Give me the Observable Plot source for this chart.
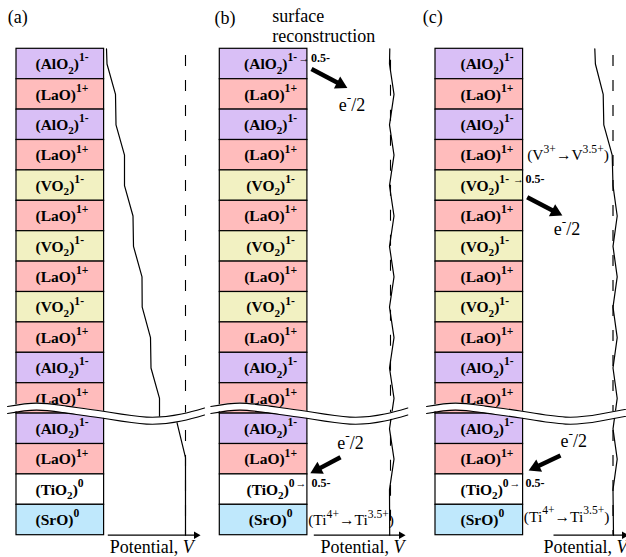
<!DOCTYPE html>
<html><head><meta charset="utf-8">
<script src="https://cdn.jsdelivr.net/npm/d3@7"></script>
<script src="https://cdn.jsdelivr.net/npm/@observablehq/plot@0.6"></script>
<style>body{margin:0;background:#fff} svg{display:block}</style>
</head><body><div id="chart"></div>
<script>
// ---------------- data ----------------
const panels = ["(a)", "(b)", "(c)"];
const layers = ["AlO2","LaO","AlO2","LaO","VO2","LaO","VO2","LaO","VO2","LaO","AlO2","LaO","AlO2","LaO","TiO2","SrO"];
const charges = ["1-","1+","1-","1+","1-","1+","1-","1+","1-","1+","1-","1+","1-","1+","0","0"];
const formulas = {AlO2: "(AlO_{2})", LaO: "(LaO)", VO2: "(VO_{2})", TiO2: "(TiO_{2})", SrO: "(SrO)"};
const layerColors = {AlO2: "#d9bff6", LaO: "#ffbcbc", VO2: "#f2f1c2", TiO2: "#ffffff", SrO: "#bfe8fc"};
// charge transfers: [panel, layer index, new charge]
const transfers = [[1, 0, "0.5-"], [1, 14, "0.5-"], [2, 4, "0.5-"], [2, 14, "0.5-"]];
const electronText = "e^{-}/2";
const valenceTexts = ["(Ti^{4+}→Ti^{3.5+})", "(V^{3+}→V^{3.5+})", "(Ti^{4+}→Ti^{3.5+})"];
const noteTexts = ["surface", "reconstruction"];
const axisTitle = "Potential, ~{V}";
// potential profiles: row position (layer units) and potential relative to the dashed reference
const potRowsA = [0, 0.5, 1.5, 2.5, 3.5, 4.5, 5.5, 6.5, 7.5, 8.5, 9.5, 10.5, 11.5, 12.1];
const potA = [-79, -78.5, -70, -69.5, -61, -61, -52.5, -52, -43.5, -43.3, -35, -34.5, -26, -26];
const potRowsA2 = [12.3, 13.45, 16];
const potA2 = [-8.5, 0, 0];
const potRowsB = [0, 0.5, 1.5, 2.5, 3.5, 4.5, 5.5, 6.5, 7.5, 8.5, 9.5, 10.5, 11.5, 12.5, 13.5, 14.5, 16];
const potB = [-0.7, -1, 3.5, -1, 3.5, -1, 3.5, -1, 3.5, -1, 3.5, -1, 3.5, -1, 3.5, -1, -0.8];
const potRowsC = [0, 0.5, 1.5, 2.5, 3.5, 4.5, 5.5, 6.5, 7.5, 8.5, 9.5, 10.5, 11.5, 12.5, 13.5, 14.5, 16];
const potC = [-18.2, -17.6, -9.8, -9.2, -0.8, 0, 4.2, 0, 4.2, 0, 4.2, 0, 4.2, 0, 4.2, 0, 0.5];
// break wave (x offset from box left, centre row)
const breakDx = [-9, 20, 50, 85, 130, 165, 188];
const breakRow = [11.88, 11.77, 11.87, 12.03, 12.23, 12.13, 11.93];

// ---------------- layout ----------------
const L = {
  W: 626, H: 557, top: 48.3, bottom: 22.3,
  boxLeft: [16, 219.3, 435], boxW: 87.6,
  labelStart: [19, null, 25], labelMid: 7,
  ref: [185, 390, 612.5], refStart: [0.22, 0.38, 0.22],
  axis: [[107.3, 200], [313.3, 405], [553, 628]],
  panelLabel: [[7.3, -0.85], [214, -0.80], [422.3, -0.85]],
  potLabelX: [109.3, 320, 543], potLabelRow: 16.57,
  transfer: [[298, 310.5], [295, 311], [512.5, 525], [509, 525]],
  eArrows: [[311, 0.664, 346.7, 1.283], [340, 13.434, 310, 13.961], [526.7, 4.882, 561.7, 5.484], [560, 13.378, 528.3, 13.872]],
  eLabels: [[338.3, 2.03], [336.7, 13.16], [553.3, 6.14], [560, 13.1]],
  valence: [[307.7, 15.68], [526.7, 3.674], [523.3, 15.57]],
  notes: [[271.7, -0.898], [271.7, -0.23]],
  breakHalf: 0.115, breakEnd: [188, 188, 197]
};
const ROW = (L.H - L.top - L.bottom) / 16;
const serif = "Liberation Serif";

// ---------------- derived tables ----------------
const cells = panels.flatMap((_, p) => layers.map((name, i) => ({p, i, name, charge: charges[i]})));
const labelOf = d => `${formulas[d.name]}^{${d.charge}}`;
const potSeries = [[0, potRowsA, potA], [0, potRowsA2, potA2], [1, potRowsB, potB], [2, potRowsC, potC]];
const potPts = potSeries.flatMap(([p, rows, v], k) => rows.map((r, j) => ({k, p, r, v: v[j]})));
const transferPts = transfers.map(([p, i, c], k) => ({p, i, c, ax: L.transfer[k][0], vx: L.transfer[k][1]}));
const eArr = L.eArrows.map(([x1, r1, x2, r2]) => {
  const dx = x2 - x1, dy = (r2 - r1) * ROW, len = Math.hypot(dx, dy);
  const back = 7.6;
  return {x1, r1, hx: x2 - dx / len * back, hr: r2 - dy / len * back / ROW, rot: Math.atan2(dy, dx) * 180 / Math.PI + 90};
});
const eLab = L.eLabels.map(([x, r]) => ({x, r, t: electronText}));
const valPts = valenceTexts.map((t, k) => ({t, x: L.valence[k][0], r: L.valence[k][1]}));
const notePts = noteTexts.map((t, k) => ({t, x: L.notes[k][0], r: L.notes[k][1]}));
const panelPts = panels.map((t, p) => ({t, x: L.panelLabel[p][0], r: L.panelLabel[p][1]}));
const potLab = panels.map((_, p) => ({t: axisTitle, x: L.potLabelX[p], r: L.potLabelRow}));
const axes = panels.map((_, p) => ({p, x1: L.axis[p][0], x2: L.axis[p][1]}));
const breakPts = panels.flatMap((_, p) => breakDx.map((dx, j) => ({p, x: L.boxLeft[p] + (j === breakDx.length - 1 ? L.breakEnd[p] : dx), r: breakRow[j]})));

const T = {fill: "black", lineAnchor: "bottom", fontFamily: serif};
const chart = Plot.plot({
  width: L.W, height: L.H,
  marginTop: L.top, marginBottom: L.bottom, marginLeft: 0, marginRight: 0,
  x: {domain: [0, L.W], axis: null},
  y: {domain: [16, 0], axis: null},
  color: {type: "identity"},
  marks: [
    Plot.rect(cells, {x1: d => L.boxLeft[d.p], x2: d => L.boxLeft[d.p] + L.boxW, y1: d => d.i, y2: d => d.i + 1,
      fill: d => layerColors[d.name], stroke: "black", strokeWidth: 1.2}),
    Plot.text(cells.filter(d => d.p !== 1), {...T, x: d => L.boxLeft[d.p] + L.labelStart[d.p], y: d => d.i + 0.67,
      text: labelOf, textAnchor: "start", fontWeight: "bold", fontSize: 15.5}),
    Plot.text(cells.filter(d => d.p === 1), {...T, x: d => L.boxLeft[d.p] + L.boxW / 2 + L.labelMid, y: d => d.i + 0.67,
      text: labelOf, fontWeight: "bold", fontSize: 15.5}),
    Plot.text(transferPts, {...T, x: "ax", y: d => d.i + 0.43, text: () => "→", textAnchor: "start", fontSize: 11}),
    Plot.text(transferPts, {...T, x: "vx", y: d => d.i + 0.43, text: "c", textAnchor: "start", fontSize: 12, fontWeight: "bold"}),
    Plot.ruleX([0, 1], {x: p => L.ref[p], y1: p => L.refStart[p], y2: () => 16, stroke: "black", strokeWidth: 1.1, strokeDasharray: "11,14"}),
    Plot.ruleX([2], {x: p => L.ref[p], y1: p => L.refStart[p], y2: () => 16, stroke: "#555", strokeWidth: 1.8, strokeDasharray: "11,14"}),
    Plot.line(potPts, {x: d => L.ref[d.p] + d.v, y: "r", z: "k", stroke: "black", strokeWidth: 1.2}),
    Plot.link(axes, {x1: "x1", x2: d => d.x2 - 5, y1: () => 16, y2: () => 16, stroke: "black", strokeWidth: 1.3}),
    Plot.dot(axes, {x: d => d.x2 - 4.3, y: () => 16, symbol: "triangle", r: 2.8, rotate: 90, fill: "black", stroke: "none"}),
    Plot.text(potLab, {...T, x: "x", y: "r", text: "t", textAnchor: "start", fontSize: 18}),
    Plot.text(panelPts, {...T, x: "x", y: "r", text: "t", textAnchor: "start", fontSize: 18}),
    Plot.text(notePts, {...T, x: "x", y: "r", text: "t", textAnchor: "start", fontSize: 18}),
    Plot.text(eLab, {...T, x: "x", y: "r", text: "t", textAnchor: "start", fontSize: 18}),
    Plot.text(valPts, {...T, x: "x", y: "r", text: "t", textAnchor: "start", fontSize: 15.5}),
    Plot.link(eArr, {x1: "x1", y1: "r1", x2: "hx", y2: "hr", stroke: "black", strokeWidth: 4.5}),
    Plot.dot(eArr, {x: "hx", y: "hr", symbol: "triangle", r: 5, rotate: "rot", fill: "black", stroke: "none"}),
    Plot.areaY(breakPts, {x: "x", y1: d => d.r - L.breakHalf, y2: d => d.r + L.breakHalf, z: "p", fill: "white", curve: "natural"}),
    Plot.line(breakPts, {x: "x", y: d => d.r - L.breakHalf, z: "p", stroke: "black", strokeWidth: 1.1, curve: "natural"}),
    Plot.line(breakPts, {x: "x", y: d => d.r + L.breakHalf, z: "p", stroke: "black", strokeWidth: 1.1, curve: "natural"})
  ]
});

// rich text: _{sub} ^{sup} ~{italic}
function richText(svg) {
  const NS = "http://www.w3.org/2000/svg";
  svg.querySelectorAll("text").forEach(t => {
    const s = t.textContent;
    if (!/[_^~]\{/.test(s)) return;
    const host = t.closest("[font-size]");
    const base = host ? parseFloat(host.getAttribute("font-size")) : 12;
    const parts = [], re = /([_^~])\{([^}]*)\}/g;
    let last = 0, m;
    while ((m = re.exec(s))) {
      if (m.index > last) parts.push(["", s.slice(last, m.index)]);
      parts.push([m[1], m[2]]);
      last = re.lastIndex;
    }
    if (last < s.length) parts.push(["", s.slice(last)]);
    t.textContent = "";
    let cur = 0;
    for (const [k, txt] of parts) {
      const ts = document.createElementNS(NS, "tspan");
      ts.textContent = txt;
      let off = 0, size = base;
      if (k === "^") { off = -0.5 * base; size = 0.75 * base; }
      else if (k === "_") { off = 0.28 * base; size = 0.72 * base; }
      else if (k === "~") ts.setAttribute("font-style", "italic");
      if (size !== base) ts.setAttribute("font-size", size);
      if (off !== cur) { ts.setAttribute("dy", off - cur); cur = off; }
      t.appendChild(ts);
    }
  });
}
richText(chart);
document.getElementById("chart").appendChild(chart);
</script>
</body></html>
